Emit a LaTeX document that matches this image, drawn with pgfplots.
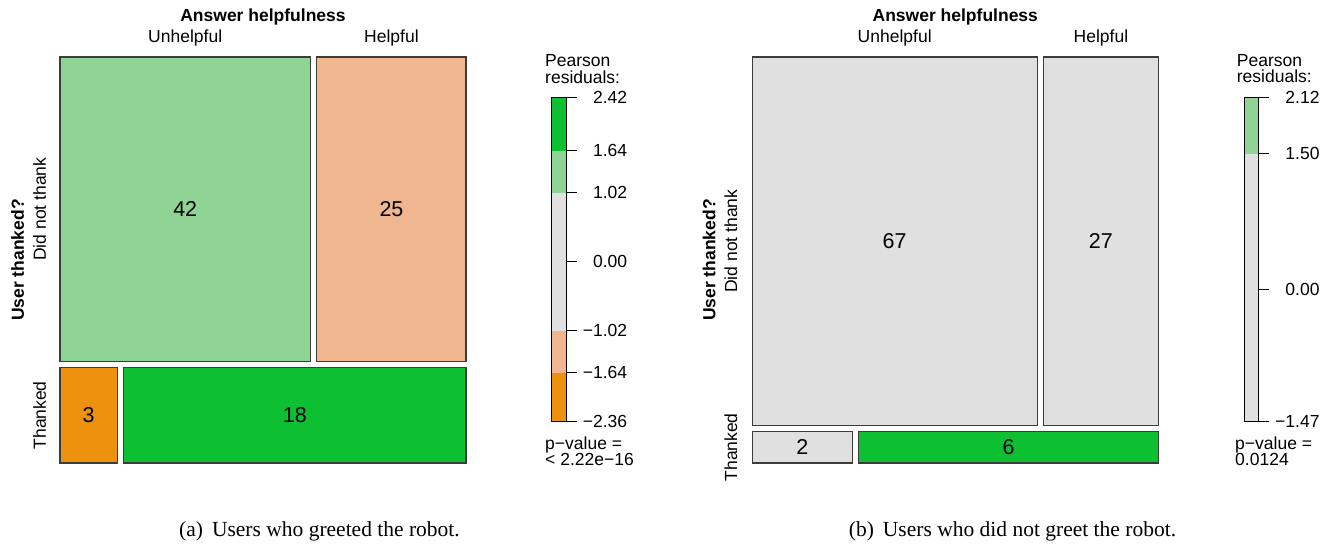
\documentclass[border=0pt]{standalone}
\usepackage{pgfplots}
\pgfplotsset{compat=1.18}
\usepackage{fontspec}
\setmainfont{Liberation Sans}
\newfontfamily\seriffont{Liberation Serif}
\definecolor{dgreen}{RGB}{12,192,50}
\definecolor{lgreen}{RGB}{143,211,149}
\definecolor{lgrey}{RGB}{224,224,224}
\definecolor{lorange}{RGB}{239,182,143}
\definecolor{dorange}{RGB}{238,145,14}
\definecolor{cellborder}{RGB}{60,60,60}
\newcommand\lab{\fontsize{17.5}{20}\selectfont}
\newcommand\numf{\fontsize{21.5}{24}\selectfont}
\newcommand\capf{\seriffont\fontsize{21.5}{24}\selectfont}
\pgfplotsset{
  mosaic/.style={anchor=south west, width=406pt, height=406pt, scale only axis,
    xmin=0, xmax=1, ymin=0, ymax=1, axis lines=none, clip=false},
  cell/.style={draw=cellborder, line width=1.1pt, line cap=rect, line join=miter, mark=none},
  bin/.style={draw=none, mark=none},
  shadeleg/.style={anchor=south west, width=14.3pt, height=324pt, scale only axis,
    xmin=0, xmax=1, xtick=\empty, ytick pos=right, tick align=outside,
    major tick length=11pt, tick style={black, line width=0.9pt},
    axis line style={black, line width=0.9pt}, axis on top,
    yticklabel style={font=\lab, anchor=west, inner xsep=0pt, text width=50pt, align=right}},
}
\begin{document}
\begin{tikzpicture}[x=1pt,y=1pt]
\useasboundingbox (0,0) rectangle (1338,-544);
% ================= (a) mosaic =================
\def\nA{42}\def\nB{25}\def\nC{3}\def\nD{18}
\pgfmathsetmacro\gp{0.016}
\pgfmathsetmacro\yb{(1-\gp)*(\nC+\nD)/(\nA+\nB+\nC+\nD)}
\pgfmathsetmacro\yt{\yb+\gp}
\pgfmathsetmacro\xt{(1-\gp)*\nA/(\nA+\nB)}
\pgfmathsetmacro\xtt{\xt+\gp}
\pgfmathsetmacro\xb{(1-\gp)*\nC/(\nC+\nD)}
\pgfmathsetmacro\xbb{\xb+\gp}
\pgfmathsetmacro\mA{\xt/2}\pgfmathsetmacro\mB{(\xtt+1)/2}
\pgfmathsetmacro\mC{\xb/2}\pgfmathsetmacro\mD{(\xbb+1)/2}
\pgfmathsetmacro\mT{(\yt+1)/2}\pgfmathsetmacro\mL{\yb/2}
\begin{axis}[mosaic, at={(60pt,-463pt)}]
\addplot[cell, fill=lgreen] coordinates {(0,\yt) (\xt,\yt) (\xt,1) (0,1) (0,\yt)};
\addplot[cell, fill=lorange] coordinates {(\xtt,\yt) (1,\yt) (1,1) (\xtt,1) (\xtt,\yt)};
\addplot[cell, fill=dorange] coordinates {(0,0) (\xb,0) (\xb,\yb) (0,\yb) (0,0)};
\addplot[cell, fill=dgreen] coordinates {(\xbb,0) (1,0) (1,\yb) (\xbb,\yb) (\xbb,0)};
\node[font=\numf] at (axis cs:\mA,\mT) {42};
\node[font=\numf] at (axis cs:\mB,\mT) {25};
\node[font=\numf] at (axis cs:\mC,\mL) {3};
\node[font=\numf] at (axis cs:\mD,\mL) {18};
\node[font=\lab, anchor=base] at (axis cs:\mA,1.0357) {Unhelpful};
\node[font=\lab, anchor=base] at (axis cs:\mB,1.0357) {Helpful};
\node[font=\lab\bfseries, anchor=base] at (axis cs:0.5,1.0874) {Answer helpfulness};
\node[font=\lab, rotate=90] at (axis cs:-0.0505,\mT) {Did not thank};
\node[font=\lab, rotate=90] at (axis cs:-0.0505,\mL) {Thanked};
\node[font=\lab\bfseries, rotate=90] at (axis cs:-0.1045,0.5) {User thanked?};
\end{axis}
% ================= (a) legend =================
\begin{axis}[shadeleg, at={(551.7pt,-421.7pt)}, ymin=-2.36, ymax=2.42,
  ytick={-2.36,-1.64,-1.02,0,1.02,1.64,2.42},
  yticklabels={−2.36,−1.64,−1.02,0.00,1.02,1.64,2.42}]
\addplot[bin, fill=dorange] coordinates {(0,-2.36) (1,-2.36) (1,-1.64) (0,-1.64)};
\addplot[bin, fill=lorange] coordinates {(0,-1.64) (1,-1.64) (1,-1.02) (0,-1.02)};
\addplot[bin, fill=lgrey] coordinates {(0,-1.02) (1,-1.02) (1,1.02) (0,1.02)};
\addplot[bin, fill=lgreen] coordinates {(0,1.02) (1,1.02) (1,1.64) (0,1.64)};
\addplot[bin, fill=dgreen] coordinates {(0,1.64) (1,1.64) (1,2.42) (0,2.42)};
\end{axis}
\node[font=\lab, anchor=base west, inner sep=0pt] at (545,-66.5) {Pearson};
\node[font=\lab, anchor=base west, inner sep=0pt] at (545,-83) {residuals:};
\node[font=\lab, anchor=base west, inner sep=0pt] at (545,-449) {p−value =};
\node[font=\lab, anchor=base west, inner sep=0pt] at (545,-465) {< 2.22e−16};
\node[font=\capf, anchor=base] at (319.5,-536.5) {(a)\hspace{9pt}Users who greeted the robot.};
% ================= (b) mosaic =================
\def\nA{67}\def\nB{27}\def\nC{2}\def\nD{6}
\pgfmathsetmacro\yb{(1-\gp)*(\nC+\nD)/(\nA+\nB+\nC+\nD)}
\pgfmathsetmacro\yt{\yb+\gp}
\pgfmathsetmacro\xt{(1-\gp)*\nA/(\nA+\nB)}
\pgfmathsetmacro\xtt{\xt+\gp}
\pgfmathsetmacro\xb{(1-\gp)*\nC/(\nC+\nD)}
\pgfmathsetmacro\xbb{\xb+\gp}
\pgfmathsetmacro\mA{\xt/2}\pgfmathsetmacro\mB{(\xtt+1)/2}
\pgfmathsetmacro\mC{\xb/2}\pgfmathsetmacro\mD{(\xbb+1)/2}
\pgfmathsetmacro\mT{(\yt+1)/2}\pgfmathsetmacro\mL{\yb/2}
\begin{axis}[mosaic, at={(752.3pt,-463pt)}]
\addplot[cell, fill=lgrey] coordinates {(0,\yt) (\xt,\yt) (\xt,1) (0,1) (0,\yt)};
\addplot[cell, fill=lgrey] coordinates {(\xtt,\yt) (1,\yt) (1,1) (\xtt,1) (\xtt,\yt)};
\addplot[cell, fill=lgrey] coordinates {(0,0) (\xb,0) (\xb,\yb) (0,\yb) (0,0)};
\addplot[cell, fill=dgreen] coordinates {(\xbb,0) (1,0) (1,\yb) (\xbb,\yb) (\xbb,0)};
\node[font=\numf] at (axis cs:\mA,\mT) {67};
\node[font=\numf] at (axis cs:\mB,\mT) {27};
\node[font=\numf] at (axis cs:\mC,\mL) {2};
\node[font=\numf] at (axis cs:\mD,\mL) {6};
\node[font=\lab, anchor=base] at (axis cs:\mA,1.0357) {Unhelpful};
\node[font=\lab, anchor=base] at (axis cs:\mB,1.0357) {Helpful};
\node[font=\lab\bfseries, anchor=base] at (axis cs:0.5,1.0874) {Answer helpfulness};
\node[font=\lab, rotate=90] at (axis cs:-0.0530,\mT) {Did not thank};
\node[font=\lab, rotate=90] at (axis cs:-0.0530,\mL) {Thanked};
\node[font=\lab\bfseries, rotate=90] at (axis cs:-0.1065,0.5) {User thanked?};
\end{axis}
% ================= (b) legend =================
\begin{axis}[shadeleg, at={(1244pt,-421.7pt)}, ymin=-1.47, ymax=2.12,
  ytick={-1.47,0,1.50,2.12},
  yticklabels={−1.47,0.00,1.50,2.12}]
\addplot[bin, fill=lgrey] coordinates {(0,-1.47) (1,-1.47) (1,1.50) (0,1.50)};
\addplot[bin, fill=lgreen] coordinates {(0,1.50) (1,1.50) (1,2.12) (0,2.12)};
\end{axis}
\node[font=\lab, anchor=base west, inner sep=0pt] at (1236.7,-66) {Pearson};
\node[font=\lab, anchor=base west, inner sep=0pt] at (1236.7,-82.5) {residuals:};
\node[font=\lab, anchor=base west, inner sep=0pt] at (1235,-449) {p−value =};
\node[font=\lab, anchor=base west, inner sep=0pt] at (1235,-465) {0.0124};
\node[font=\capf, anchor=base] at (1012.5,-536.5) {(b)\hspace{9pt}Users who did not greet the robot.};
\end{tikzpicture}
\end{document}
